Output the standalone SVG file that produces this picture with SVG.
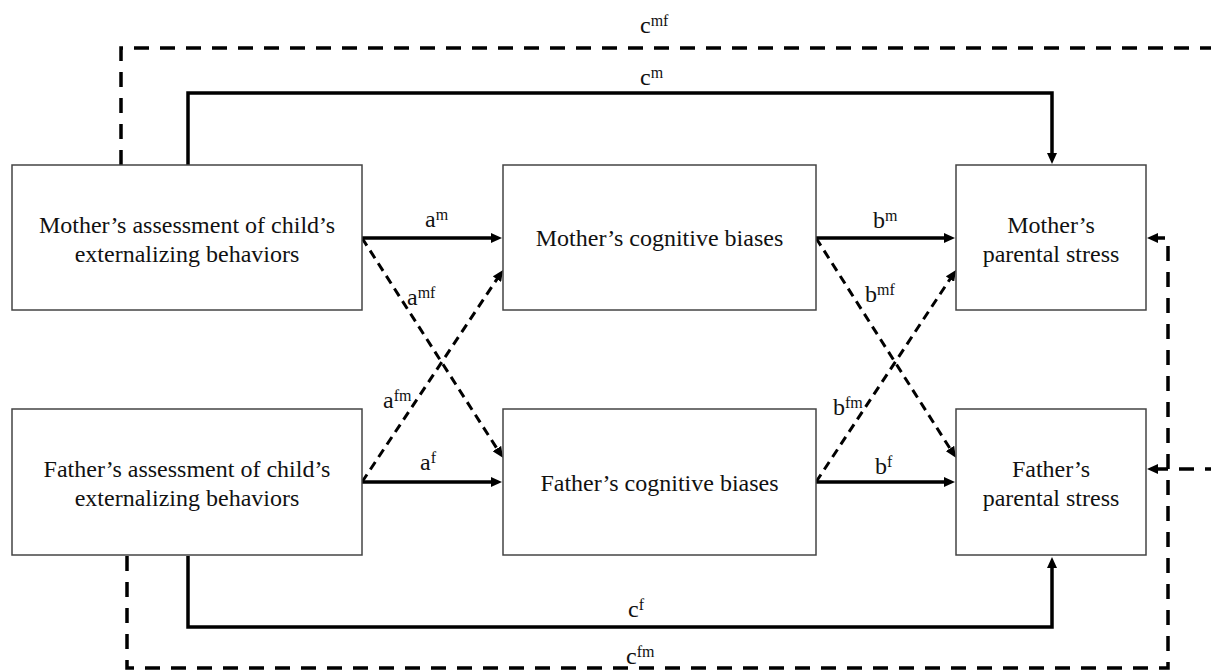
<svg xmlns="http://www.w3.org/2000/svg" width="1211" height="670" viewBox="0 0 1211 670">
<style>
.box{fill:#fff;stroke:#444;stroke-width:1.5}
.t{font-family:'Liberation Serif','Times New Roman','DejaVu Serif',serif;font-size:24px;fill:#111}
.c{text-anchor:middle}
.sup{font-size:16px}
.solid{fill:none;stroke:#000;stroke-width:3.5}
.dash{fill:none;stroke:#000;stroke-width:3.5;stroke-dasharray:15 11}
.dd{fill:none;stroke:#000;stroke-width:3;stroke-dasharray:9 6}
</style>
<defs>
<marker id="ah" markerUnits="userSpaceOnUse" markerWidth="12" markerHeight="10" refX="1" refY="5" orient="auto">
<path d="M0,0 L11,5 L0,10 z" fill="#000"/>
</marker>
</defs>
<rect width="1211" height="670" fill="#fff"/>
<g id="connectors">
<path class="solid" d="M362,238 H492" marker-end="url(#ah)"/>
<path class="solid" d="M362,482 H492" marker-end="url(#ah)"/>
<path class="solid" d="M816,238 H945" marker-end="url(#ah)"/>
<path class="solid" d="M816,482 H945" marker-end="url(#ah)"/>
<path class="solid" d="M188,165 V93 H1052 V154" marker-end="url(#ah)"/>
<path class="solid" d="M188,556 V627 H1052 V567" marker-end="url(#ah)"/>
<path class="dd" d="M362,238 L497.5,449.4" marker-end="url(#ah)"/>
<path class="dd" d="M362,482 L497.5,278.3" marker-end="url(#ah)"/>
<path class="dd" d="M816,238 L950.5,449.3" marker-end="url(#ah)"/>
<path class="dd" d="M816,482 L950.5,278.3" marker-end="url(#ah)"/>
<path class="dash" d="M121,165 V48 H1220 M1220,469 H1157" marker-end="url(#ah)"/>
<path class="dash" d="M127,556 V668 H1168 V238 H1157" marker-end="url(#ah)"/>
</g>
<g font-family="Liberation Serif, serif">
<g id="n1"><rect class="box" x="12" y="165" width="350" height="145"/>
<text class="t c" x="187" y="233">Mother’s assessment of child’s</text>
<text class="t c" x="187" y="262">externalizing behaviors</text></g>
<g id="n2"><rect class="box" x="503" y="165" width="313" height="145"/>
<text class="t c" x="659.5" y="246">Mother’s cognitive biases</text></g>
<g id="n3"><rect class="box" x="956" y="165" width="190" height="145"/>
<text class="t c" x="1051" y="233">Mother’s</text>
<text class="t c" x="1051" y="262">parental stress</text></g>
<g id="n4"><rect class="box" x="12" y="409" width="350" height="146"/>
<text class="t c" x="187" y="477">Father’s assessment of child’s</text>
<text class="t c" x="187" y="506">externalizing behaviors</text></g>
<g id="n5"><rect class="box" x="503" y="409" width="313" height="146"/>
<text class="t c" x="659.5" y="491">Father’s cognitive biases</text></g>
<g id="n6"><rect class="box" x="956" y="409" width="190" height="146"/>
<text class="t c" x="1051" y="477">Father’s</text>
<text class="t c" x="1051" y="506">parental stress</text></g>
<g id="labels">
<text class="t" x="640" y="33">c<tspan class="sup" dy="-7">mf</tspan></text>
<text class="t" x="640" y="85">c<tspan class="sup" dy="-7">m</tspan></text>
<text class="t" x="425" y="227">a<tspan class="sup" dy="-7">m</tspan></text>
<text class="t" x="407" y="305">a<tspan class="sup" dy="-7">mf</tspan></text>
<text class="t" x="383" y="408">a<tspan class="sup" dy="-7">fm</tspan></text>
<text class="t" x="420" y="470">a<tspan class="sup" dy="-7">f</tspan></text>
<text class="t" x="873" y="228">b<tspan class="sup" dy="-7">m</tspan></text>
<text class="t" x="865" y="302">b<tspan class="sup" dy="-7">mf</tspan></text>
<text class="t" x="833" y="415">b<tspan class="sup" dy="-7">fm</tspan></text>
<text class="t" x="875" y="474">b<tspan class="sup" dy="-7">f</tspan></text>
<text class="t" x="628" y="617">c<tspan class="sup" dy="-7">f</tspan></text>
<text class="t" x="626" y="664">c<tspan class="sup" dy="-7">fm</tspan></text>
</g>
</g>
</svg>
